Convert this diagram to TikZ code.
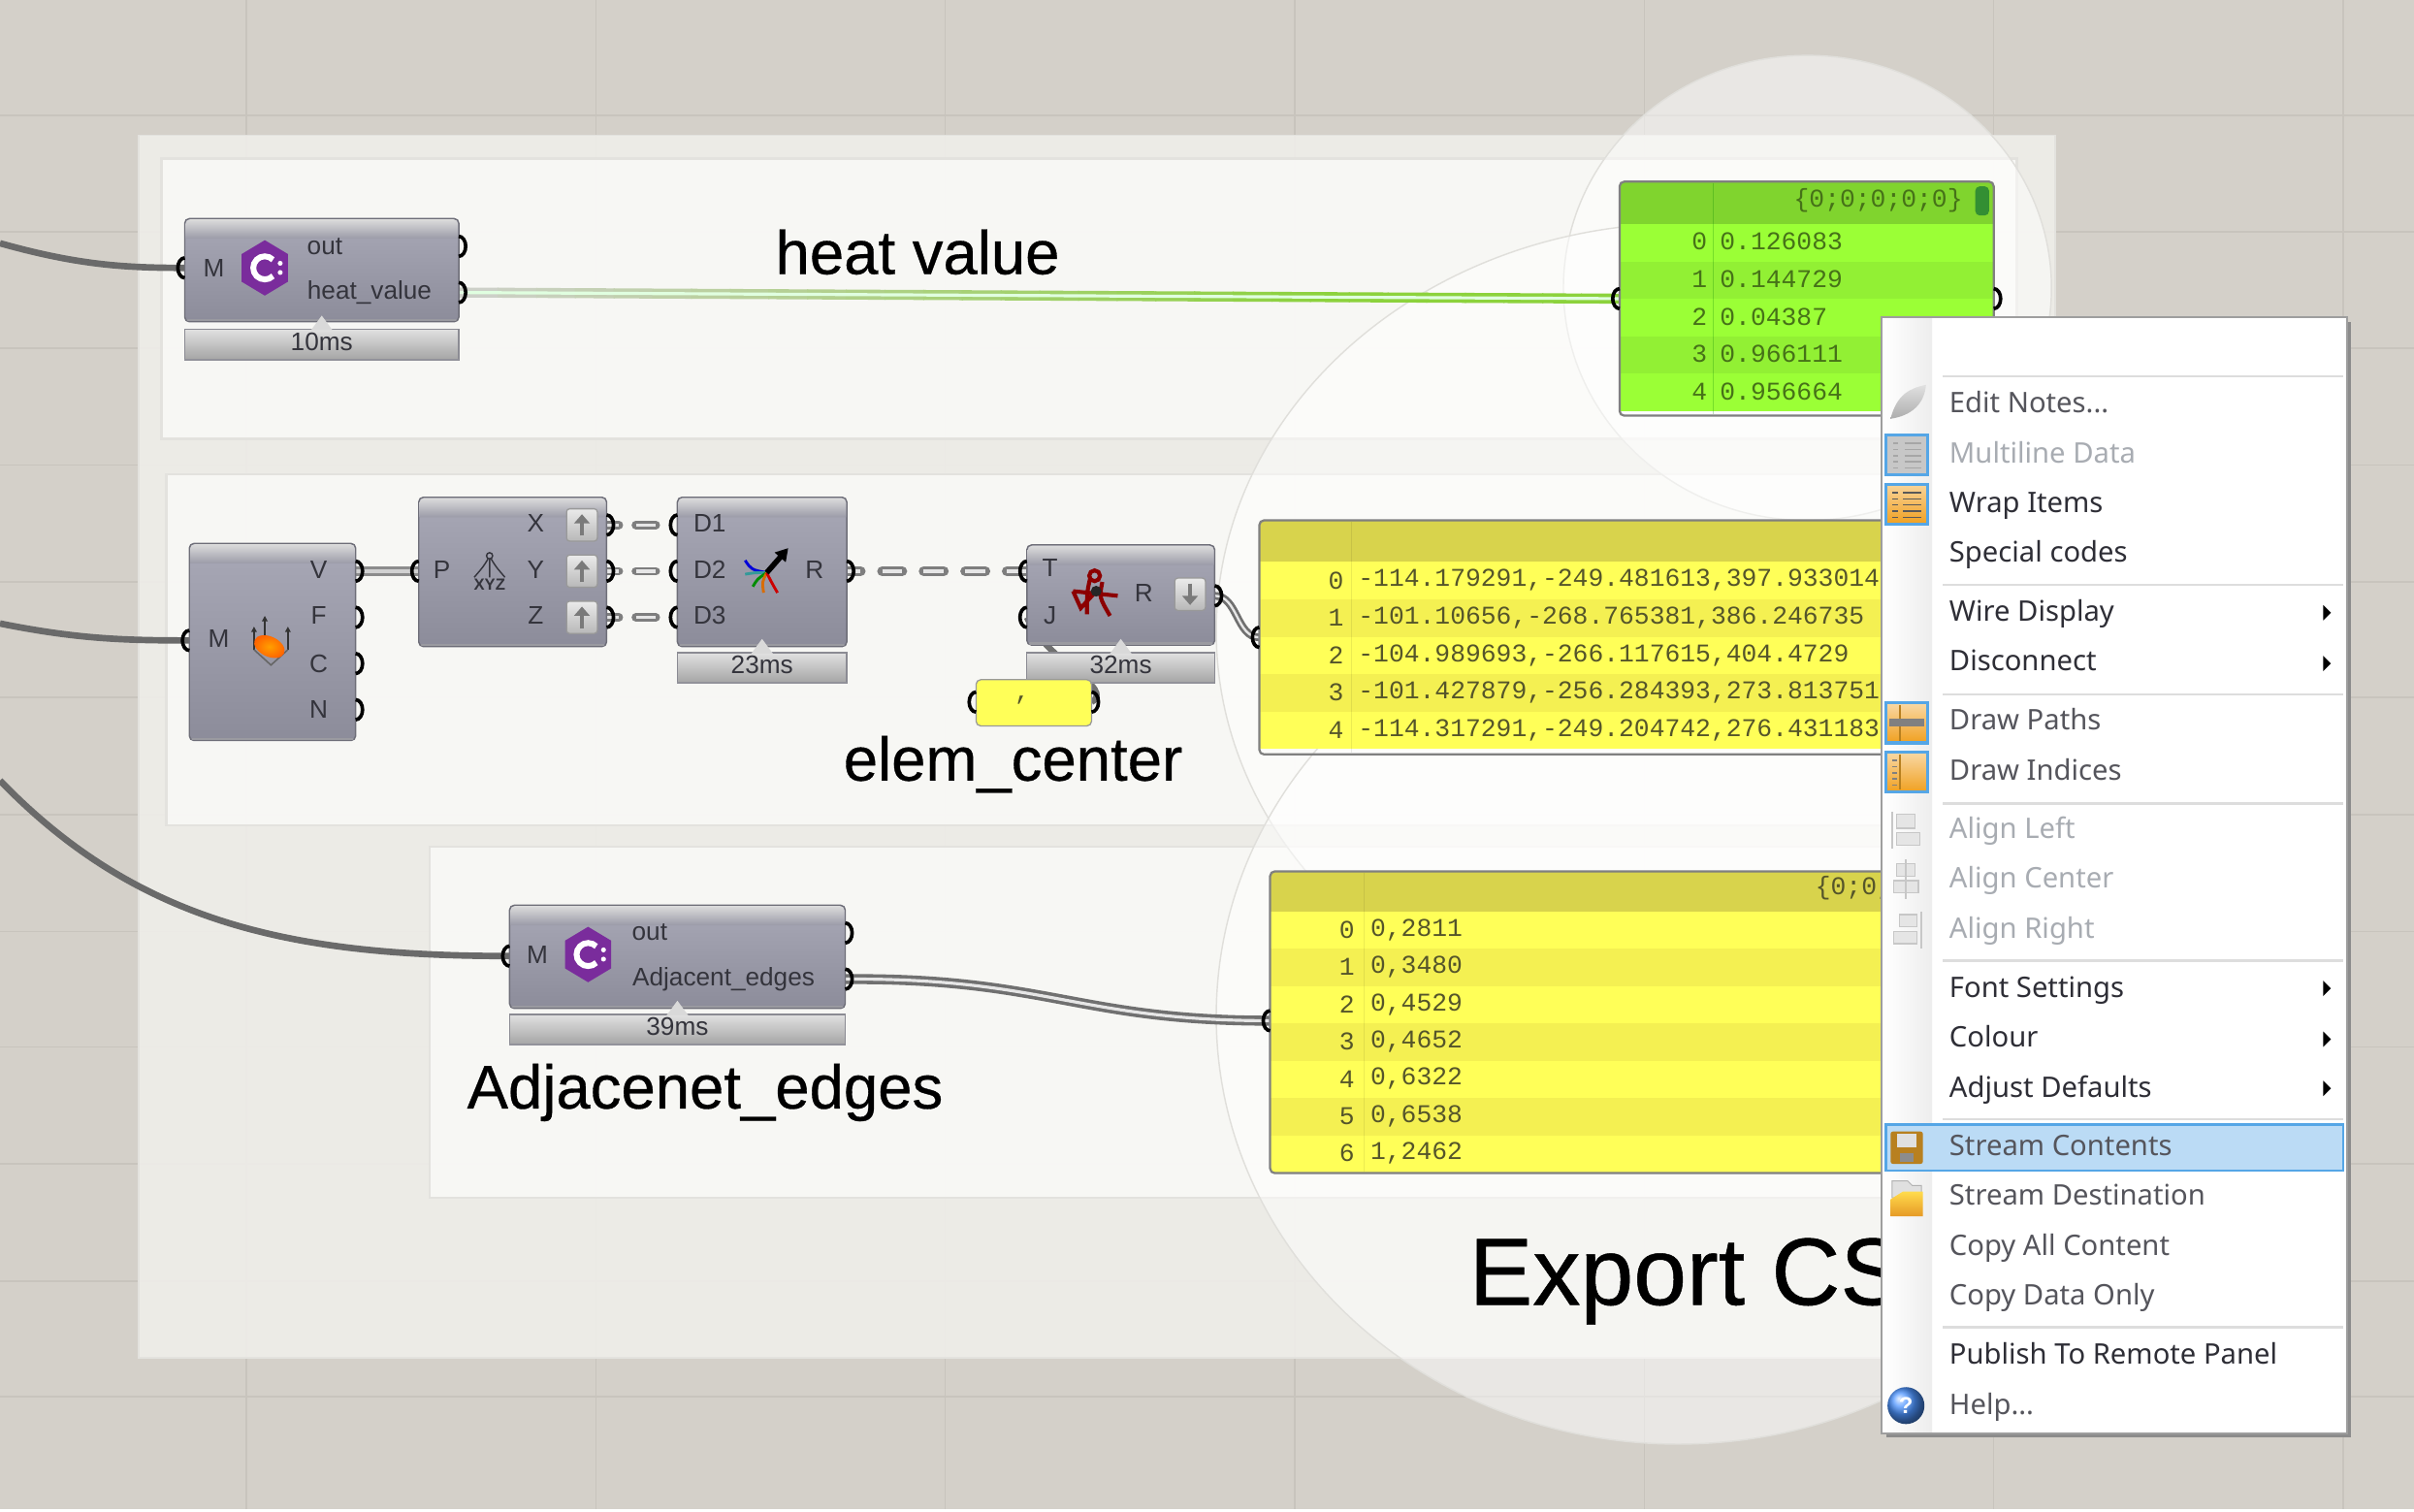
\documentclass[tikz,border=0pt]{standalone}
\usepackage{fontspec}
\setmainfont{Liberation Sans}
\setmonofont{Liberation Mono}
\newfontfamily\menufont{Noto Sans}
\newfontfamily\bigfont[FakeBold=0.5]{Liberation Sans}
\usetikzlibrary{calc,arrows.meta}
\definecolor{bgcol}{HTML}{D4D0C9}
\definecolor{gridcol}{HTML}{C8C4BD}
\definecolor{outerg}{HTML}{F0EFEB}
\definecolor{innerg}{HTML}{F8F8F6}
\definecolor{gline}{HTML}{E3E2DE}
\definecolor{blobline}{HTML}{E0DFDB}
\definecolor{wiregray}{HTML}{707070}
\definecolor{wirelight}{HTML}{E6E6E6}
\definecolor{compline}{HTML}{6E6E78}
\definecolor{comptxt}{HTML}{34343C}
\definecolor{compt}{HTML}{A8A8B6}
\definecolor{compb}{HTML}{8C8C9A}
\definecolor{ylrow}{HTML}{FFFF58}
\definecolor{ylalt}{HTML}{F4F052}
\definecolor{ylhead}{HTML}{D8D34C}
\definecolor{grrow}{HTML}{9BFF36}
\definecolor{gralt}{HTML}{92F034}
\definecolor{grhead}{HTML}{80D42E}
\definecolor{monotxt}{HTML}{55552A}
\definecolor{grtxt}{HTML}{467218}
\definecolor{menudim}{HTML}{A8ACB2}
\definecolor{menutxt}{HTML}{2E2E36}
\definecolor{menumid}{HTML}{55555C}
\definecolor{menusep}{HTML}{DDDDDD}
\definecolor{iconblue}{HTML}{55A6E6}
\definecolor{iconorg}{HTML}{F0A020}
\definecolor{iconbrn}{HTML}{B8801F}
\definecolor{purp}{HTML}{7A2C9C}
\tikzset{
  x=1pt,y=-1pt,
  compbody/.style={draw=compline,line width=0.9pt,rounded corners=3pt,inner sep=0pt,top color=compt,bottom color=compb},
  labelbar/.style={draw=compline!80,line width=0.8pt,inner sep=0pt,top color=black!12,bottom color=black!36},
  ctext/.style={text=comptxt,inner sep=0pt,font=\fontsize{16.5}{18}\selectfont},
  biglabel/.style={text=black,inner sep=0pt,anchor=base,font=\bigfont\fontsize{40}{46}\selectfont},
  monotext/.style={text=monotxt,inner sep=0pt,font=\ttfamily\fontsize{16.6}{18}\selectfont},
  menuitem/.style={inner sep=0pt,anchor=base west,font=\menufont\fontsize{18.4}{20}\selectfont},
  portline/.style={draw=black,line width=2.3pt},
  wbase/.style={draw=wiregray,line width=6.5pt},
  wcore/.style={draw=wirelight,line width=2pt},
  inwire/.style={draw=wiregray!95!black,line width=4.2pt},
  hbase/.style={draw=wiregray!90,line width=5.5pt,line cap=round},
  hcore/.style={draw=wirelight,line width=2.2pt},
  btn/.style={draw=gray!80,line width=0.8pt,rounded corners=2pt,inner sep=0pt,minimum width=20pt,minimum height=21pt,top color=black!8,bottom color=black!28},
  gmenuicon/.style={draw=iconblue,line width=2pt,inner sep=0pt,minimum width=27pt,minimum height=26pt},
  dimicon/.style={draw=black!22,fill=black!10,line width=0.8pt},
}
% a component body with its lighter top band
\newcommand\gcomp[5]{%
  \pgfmathsetmacro\cx{(#2+#4)/2}\pgfmathsetmacro\cy{(#3+#5)/2}%
  \pgfmathsetmacro\cw{#4-#2}\pgfmathsetmacro\ch{#5-#3}%
  \node[compbody,minimum width=\cw pt,minimum height=\ch pt] (#1) at (\cx,\cy) {};
  \shade[top color=black!14,bottom color=compt!92!black] (#2+.5,#3+13) [rounded corners=3pt] -- (#2+.5,#3+.5) -- (#4-.5,#3+.5) [sharp corners] -- (#4-.5,#3+13) -- cycle;
  \draw[compline!70,line width=1.4pt,line cap=round] (#2+2,#5-1) -- (#4-2,#5-1);
}
% a time bar below a component
\newcommand\gbar[6]{%
  \pgfmathsetmacro\cx{(#2+#4)/2}\pgfmathsetmacro\cy{(#3+#5)/2}%
  \pgfmathsetmacro\cw{#4-#2}\pgfmathsetmacro\ch{#5-#3}%
  \node[labelbar,minimum width=\cw pt,minimum height=\ch pt] (#1) at (\cx,\cy) {};
  \fill[black!15] (\cx-7,#3+.5) -- (\cx,#3-9) -- (\cx+7,#3+.5) -- cycle;
  \draw[compline!75,line width=1.4pt] (#2,#5-.5) -- (#4,#5-.5);
  \node[ctext] (#1t) at (\cx,\cy-2) {#6};
}
\newcommand\portL[1]{\draw[portline] ([yshift=6.5pt]#1) arc[start angle=90,end angle=270,x radius=4.5pt,y radius=6.5pt];}
\newcommand\portR[1]{\draw[portline] ([yshift=6.5pt]#1) arc[start angle=90,end angle=-90,x radius=4.5pt,y radius=6.5pt];}
% C# hexagon icon
\newcommand\csicon[2]{%
  \fill[purp] (#1,#2-18) -- (#1+15,#2-9) -- (#1+15,#2+9) -- (#1,#2+18) -- (#1-15,#2+9) -- (#1-15,#2-9) -- cycle;
  \draw[white,line width=3.8pt] ([shift={(45:7.5pt)}]#1,#2) arc[start angle=45,end angle=315,radius=7.5pt];
  \fill[white] (#1+10,#2-3) circle (1.6pt) (#1+10,#2+3) circle (1.6pt);
}
\newcommand\upbtn[3]{%
  \node[btn] (#1) at (#2,#3) {};
  \draw[black!52,line width=2pt,-{Triangle[length=6pt,width=10pt]}] (#2,#3+7) -- (#2,#3-7);
}
\begin{document}
\begin{tikzpicture}
\useasboundingbox (0,0) rectangle (1568,982);
% canvas
\fill[bgcol] (0,0) rectangle (1568,982);
\foreach \gx in {160,387,614,841,1068,1295,1522} \draw[gridcol,line width=1pt] (\gx,0) -- (\gx,982);
\foreach \gy in {75,150.5,226,302,378,453,529,605,680,756,832,907} \draw[gridcol,line width=1pt] (0,\gy) -- (1568,\gy);
\fill[white] (0,980.3) rectangle (1568,982);
% groups
\fill[outerg,fill opacity=.88] (90,88) rectangle (1335,882);
\draw[gline,line width=1pt] (90,88) rectangle (1335,882);
\foreach \ga/\gb/\gc/\gd in {105/103/1310/285,108/308/1310/536,279/550/1310/778}{
  \fill[innerg,fill opacity=.93] (\ga,\gb) rectangle (\gc,\gd);
  \draw[gline,line width=1.6pt] (\ga,\gb) rectangle (\gc,\gd);
}
% highlight blobs
\foreach \bx/\by/\brx/\bry in {1174/187/158.5/151,1095/410/305/265,1090/660/300/278}{
  \fill[white,fill opacity=.5] (\bx,\by) ellipse[x radius=\brx,y radius=\bry];
  \draw[blobline,line width=.9pt] (\bx,\by) ellipse[x radius=\brx,y radius=\bry];
}
% port positions
\coordinate (a1) at (120,174); \coordinate (a2) at (298,160); \coordinate (a3) at (298,190);
\coordinate (b1) at (123,416); \coordinate (b2) at (231,371); \coordinate (b3) at (231,401); \coordinate (b4) at (231,431); \coordinate (b5) at (231,461);
\coordinate (c1) at (272,371); \coordinate (c2) at (394,341); \coordinate (c3) at (394,371); \coordinate (c4) at (394,401);
\coordinate (d1) at (440,341); \coordinate (d2) at (440,371); \coordinate (d3) at (440,401); \coordinate (d4) at (550,371);
\coordinate (e1) at (667,371); \coordinate (e2) at (667,401); \coordinate (e3) at (789,387);
\coordinate (f1) at (634,456); \coordinate (f2) at (709,456);
\coordinate (g1) at (331,621); \coordinate (g2) at (549,606); \coordinate (g3) at (549,636);
\coordinate (h1) at (1052,194); \coordinate (h2) at (1295,194);
\coordinate (i1) at (818,414);
\coordinate (j1) at (825,663);
\coordinate (s1) at (0,158); \coordinate (s2) at (0,405); \coordinate (s3) at (0,507);
% wires
\draw[inwire] (s1) .. controls (50,172) and (80,174) .. (a1);
\draw[inwire] (s2) .. controls (50,415) and (80,416) .. (b1);
\draw[inwire] (s3) .. controls (90,600) and (190,621) .. (g1);
\foreach \k in {0,...,29}{
  \pgfmathsetmacro\mx{min(100,\k*100/22)}
  \pgfmathtruncatemacro\wr{205-65*\mx/100}
  \pgfmathtruncatemacro\wg{208+2*\mx/100}
  \pgfmathtruncatemacro\wb{200-140*\mx/100}
  \definecolor{heatcol}{RGB}{\wr,\wg,\wb}
  \draw[draw=heatcol,line width=6.5pt] ($(a3)!\k/30!(h1)$) -- ($(a3)!\k/30+1/30+.001!(h1)$);
}
\draw[white!88!green,line width=2pt] (a3) -- (h1);
\draw[wbase,draw=gray!90] (b2) -- (c1); \draw[wcore,line width=2.2pt,draw=black!18] (b2) -- (c1);
\foreach \pa/\pb in {c2/d1,c3/d2,c4/d3}{
  \draw[hbase,dash pattern=on 8pt off 11pt on 13pt off 20pt] (\pa) -- (\pb);
  \draw[hcore,line cap=butt,dash pattern=on 8pt off 11pt on 13pt off 20pt] (\pa) -- (\pb);
}
\draw[hbase,line width=6.5pt,dash pattern=on 13pt off 14pt,dash phase=4pt] (d4) -- (e1);
\draw[hcore,line width=2.8pt,line cap=butt,dash pattern=on 13pt off 14pt,dash phase=4pt] (d4) -- (e1);
\draw[wbase,line width=5pt] (e3) .. controls (804,387) and (803,414) .. (i1);
\draw[wcore,line width=1.5pt] (e3) .. controls (804,387) and (803,414) .. (i1);
\draw[wbase] (g3) .. controls (680,635) and (700,663) .. (j1);
\draw[wcore] (g3) .. controls (680,635) and (700,663) .. (j1);
\draw[wbase,line width=4pt] (f2) .. controls (725,447) and (680,430) .. (e2);
% heat value component
\gcomp{ca}{120}{142}{298}{209}
\gbar{ba}{120}{214}{298}{234}{10ms}
\csicon{172}{174}
\node[ctext] (ta1) at (139,174) {M};
\node[ctext] (ta2) at (211,160) {out};
\node[ctext] (ta3) at (240,190) {heat\_value};
% deconstruct mesh
\gcomp{cb}{123}{353}{231}{481}
\node[ctext] (tb1) at (142,415) {M};
\foreach \tn/\ty/\tt in {tb2/370/V,tb3/400/F,tb4/431/C,tb5/461/N} \node[ctext] (\tn) at (207,\ty) {\tt};
\foreach \ax/\ay/\az in {165/422/407,172/416/400,187/422/407}
  \draw[black!80,line width=1pt,-{Triangle[length=3.5pt,width=3.5pt]}] (\ax,\ay) -- (\ax,\az);
\draw[black!60,line width=1pt] (165,422) -- (176,432) -- (187,422);
\shade[inner color=orange!75!yellow,outer color=orange!75!red,rotate around={-25:(175,420)}] (175,420) ellipse[x radius=10.5,y radius=6.5];
% point decompose
\gcomp{cc}{272}{323}{394}{420}
\node[ctext] (tc1) at (287,370) {P};
\foreach \tn/\ty/\tt in {tc2/340/X,tc3/370/Y,tc4/400/Z} \node[ctext] (\tn) at (348,\ty) {\tt};
\upbtn{ub1}{378}{341}\upbtn{ub2}{378}{371}\upbtn{ub3}{378}{401}
\draw[comptxt,line width=.9pt] (318,361) circle (2pt);
\draw[comptxt,line width=.9pt] (317,363) .. controls (314,368) .. (308,375) (318,363) -- (318,375) (319,363) .. controls (322,368) .. (328,375);
\node[ctext,font=\bfseries\fontsize{10.5}{11}\selectfont] (tc5) at (318,380) {XYZ};
% merge
\gcomp{cd}{440}{323}{550}{420}
\gbar{bd}{440}{424}{550}{444}{23ms}
\foreach \tn/\ty/\tt in {td1/340/D1,td2/370/D2,td3/400/D3} \node[ctext] (\tn) at (461,\ty) {\tt};
\node[ctext] (td4) at (529,370) {R};
\draw[blue!85!black,line width=1.8pt] (484,364) .. controls (488,370) .. (498,372);
\draw[teal!80,line width=1.8pt] (484,373) .. controls (490,372) .. (498,372);
\draw[green!55!black,line width=1.8pt] (489,381) .. controls (492,376) .. (498,372);
\draw[orange!85!black,line width=1.8pt] (496,385) .. controls (495,378) .. (498,372);
\draw[red!80!black,line width=1.8pt] (505,385) .. controls (501,378) .. (498,372);
\draw[black,line width=3.5pt,-{Triangle[length=8pt,width=9pt]}] (498,372) -- (512,356);
% tree item
\gcomp{ce}{667}{354}{789}{419}
\gbar{be}{667}{424}{789}{444}{32ms}
\node[ctext] (te1) at (682,369) {T};
\node[ctext] (te2) at (682,400) {J};
\node[ctext] (te3) at (743,385) {R};
\draw[red!55!black,line width=2.6pt] (711,374) circle (3.5pt) (708,376) .. controls (706,385) .. (706,399) (716,378) .. controls (714,388) .. (721,400) (697,384) -- (726,387) (697,384) -- (702,395) -- (712,384);
\fill[black!85] (712,384) circle (3.5pt);
\node[btn] (ub4) at (773,386) {};
\draw[black!52,line width=2pt,-{Triangle[length=6pt,width=10pt]}] (773,379) -- (773,393);
% small text panel
\node[draw=gray!80,line width=.8pt,fill=ylrow,rounded corners=3pt,minimum width=75pt,minimum height=30pt,inner sep=0pt] (cf) at (671.5,456.5) {};
\node[monotext] (tf) at (664,455) {,};
% green panel
\fill[grhead,rounded corners=3pt] (1052,118) rectangle (1295,150);
\foreach \r in {0,...,4}{
  \pgfmathsetmacro\ry{145.5+24.3*\r}
  \pgfmathtruncatemacro\rp{mod(\r,2)}
  \ifnum\rp=0 \fill[grrow] (1052,\ry) rectangle (1295,\ry+24.3); \else \fill[gralt] (1052,\ry) rectangle (1295,\ry+24.3); \fi
}
\draw[black!50,line width=1.4pt,rounded corners=3pt] (1052,118) rectangle (1295,270);
\draw[green!50!black,opacity=.25,line width=.8pt] (1113,119) -- (1113,269);
\fill[green!45!black!80,rounded corners=3pt] (1283,121) rectangle (1292,140);
\node[monotext,text=grtxt,anchor=east] (hg) at (1275,130) {\{0;0;0;0;0\}};
\foreach \i/\v [count=\n from 0] in {0/0.126083,1/0.144729,2/0.04387,3/0.966111,4/0.956664}{
  \pgfmathsetmacro\ry{157+24.3*\n}
  \node[monotext,text=grtxt,anchor=east] (gi\n) at (1109,\ry) {\i};
  \node[monotext,text=grtxt,anchor=west] (gv\n) at (1117,\ry) {\v};
}
% yellow panel 1
\fill[ylhead,rounded corners=3pt] (818,338) rectangle (1240,370);
\foreach \r in {0,...,4}{
  \pgfmathsetmacro\ry{365+24.3*\r}
  \pgfmathtruncatemacro\rp{mod(\r,2)}
  \ifnum\rp=0 \fill[ylrow] (818,\ry) rectangle (1240,\ry+24.3); \else \fill[ylalt] (818,\ry) rectangle (1240,\ry+24.3); \fi
}
\draw[black!50,line width=1.4pt,rounded corners=3pt] (818,338) rectangle (1240,490);
\draw[black,opacity=.08,line width=.8pt] (878,339) -- (878,489);
\foreach \i/\v [count=\n from 0] in {0/{-114.179291,-249.481613,397.933014},1/{-101.10656,-268.765381,386.246735},2/{-104.989693,-266.117615,404.4729},3/{-101.427879,-256.284393,273.813751},4/{-114.317291,-249.204742,276.431183}}{
  \pgfmathsetmacro\ry{377+24.3*\n}
  \node[monotext,anchor=east] (yi\n) at (873,\ry) {\i};
  \node[monotext,anchor=west] (yv\n) at (882,\ry) {\v};
}
% yellow panel 2
\fill[ylhead,rounded corners=3pt] (825,566) rectangle (1240,598);
\foreach \r in {0,...,6}{
  \pgfmathsetmacro\ry{592+24.25*\r}
  \pgfmathtruncatemacro\rp{mod(\r,2)}
  \ifnum\rp=0 \fill[ylrow] (825,\ry) rectangle (1240,\ry+24.25); \else \fill[ylalt] (825,\ry) rectangle (1240,\ry+24.25); \fi
}
\draw[black!50,line width=1.4pt,rounded corners=3pt] (825,566) rectangle (1240,762);
\draw[black,opacity=.08,line width=.8pt] (886,567) -- (886,761);
\node[monotext,anchor=west] (hy) at (1179,577) {\{0;0,};
\foreach \i/\v [count=\n from 0] in {0/{0,2811},1/{0,3480},2/{0,4529},3/{0,4652},4/{0,6322},5/{0,6538},6/{1,2462}}{
  \pgfmathsetmacro\ry{604+24.2*\n}
  \node[monotext,anchor=east] (zi\n) at (880,\ry) {\i};
  \node[monotext,anchor=west] (zv\n) at (890,\ry) {\v};
}
% adjacent edges component
\gcomp{cg}{331}{588}{549}{655}
\gbar{bg}{331}{659}{549}{679}{39ms}
\csicon{382}{620}
\node[ctext] (tg1) at (349,620) {M};
\node[ctext] (tg2) at (422,605.5) {out};
\node[ctext] (tg3) at (470,636) {Adjacent\_edges};
% port arcs
\foreach \p in {a1,b1,c1,d1,d2,d3,e1,e2,f1,g1,h1,i1,j1} {\portL{\p}}
\foreach \p in {a2,a3,b2,b3,b4,b5,c2,c3,c4,d4,e3,f2,g2,g3,h2} {\portR{\p}}
% big labels
\node[biglabel] (l1) at (596,178) {heat value};
\node[biglabel] (l2) at (658,507) {elem\_center};
\node[biglabel] (l3) at (458,720) {Adjacenet\_edges};
\node[biglabel,anchor=base west,font=\bigfont\fontsize{62}{70}\selectfont] (l4) at (954,847.5) {Export CS};
% context menu
\fill[black!45] (1225,209) rectangle (1527,933.5);
\node[draw=black!38,line width=1.6pt,fill=white,inner sep=0pt,minimum width=302.5pt,minimum height=725pt] (menu) at (1373.3,568.5) {};
\shade[left color=white,right color=black!7] (1223,207) rectangle (1255,930);
\foreach \sy in {244.5,380,451,522,624,727,862} \draw[menusep,line width=1.5pt] (1262,\sy) -- (1522,\sy);
\node[draw=iconblue,line width=1.6pt,fill=iconblue!40,inner sep=0pt,minimum width=297pt,minimum height=30pt] (hl) at (1373.5,745.5) {};
\foreach \tt/\ty/\tc [count=\i] in {{Edit Notes...}/261/menumid,Multiline Data/294/menudim,Wrap Items/326/menutxt,Special codes/358/menutxt,Wire Display/397/menutxt,Disconnect/429/menutxt,Draw Paths/467/menumid,Draw Indices/500/menumid,Align Left/538/menudim,Align Center/570/menudim,Align Right/603/menudim,Font Settings/641/menutxt,Colour/673/menutxt,Adjust Defaults/706/menutxt,Stream Contents/744/menumid,Stream Destination/776/menumid,Copy All Content/809/menumid,Copy Data Only/841/menumid,Publish To Remote Panel/879/menutxt,{Help...}/912/menumid}{
  \node[menuitem,text=\tc] (mi\i) at (1266,\ty+6.8) {\tt};
}
\foreach \ay in {398,431,642,675,707} \fill[black] (1509,\ay-5) -- (1514,\ay) -- (1509,\ay+5) -- cycle;
% menu icons
\shade[top color=black!12,bottom color=black!32] (1228,272) .. controls (1232,256) and (1241,252) .. (1251,250) .. controls (1250,262) and (1242,270) .. cycle;
\node[gmenuicon,fill=black!22] (ic1) at (1238.5,295.5) {};
\foreach \ly in {288,292,296,300,304} \draw[black!35,line width=1pt] (1237,\ly) -- (1248,\ly) (1230,\ly) -- (1233,\ly);
\node[gmenuicon,top color=iconorg!45,bottom color=iconorg] (ic2) at (1238.5,327.5) {};
\foreach \ly in {320,324,328,332,336} \draw[black!65,line width=1pt] (1236,\ly) -- (1248,\ly) (1229,\ly) -- (1233,\ly);
\node[gmenuicon,top color=iconorg!40,bottom color=iconorg] (ic3) at (1238.5,469.5) {};
\draw[iconbrn,line width=1pt] (1234,458) -- (1234,481);
\fill[black!50] (1227,466.5) rectangle (1250,472);
\node[gmenuicon,top color=iconorg!40,bottom color=iconorg] (ic4) at (1238.5,501.5) {};
\draw[iconbrn,line width=1pt] (1234,490) -- (1234,513);
\foreach \ly in {494,498,502,506,510} \draw[black!50,line width=1pt] (1229,\ly) -- (1232,\ly);
\filldraw[dimicon] (1232,529) rectangle (1244,538) (1232,541) rectangle (1247,549);
\draw[black!22,line width=1pt] (1229,527) -- (1229,551);
\filldraw[dimicon] (1232,561) rectangle (1244,569) (1230,572) rectangle (1246,580);
\draw[black!22,line width=1pt] (1238,558) -- (1238,584);
\filldraw[dimicon] (1234,594) rectangle (1245,602) (1230,605) rectangle (1245,613);
\draw[black!22,line width=1pt] (1248,592) -- (1248,616);
% save and folder icons
\fill[iconbrn,rounded corners=1.5pt] (1228,735) rectangle (1249,756);
\fill[black!12] (1232,736.5) rectangle (1245,745);
\fill[black!45] (1234,749) rectangle (1243,755);
\filldraw[fill=black!12,draw=black!30,line width=.6pt] (1229,767) -- (1239,767) -- (1242,770) -- (1248,770) -- (1248,778) -- (1229,778) -- cycle;
\shade[top color=yellow!60!orange!70,bottom color=iconorg!80!brown] (1228,790) -- (1228,779) -- (1236,774) -- (1249,774) -- (1249,790) -- cycle;
\shade[ball color=blue!60!cyan!70] (1238,913) circle (12pt);
\node[text=white,inner sep=0pt,font=\bfseries\fontsize{15}{16}\selectfont] (qm) at (1238,913) {?};
\end{tikzpicture}
\end{document}
